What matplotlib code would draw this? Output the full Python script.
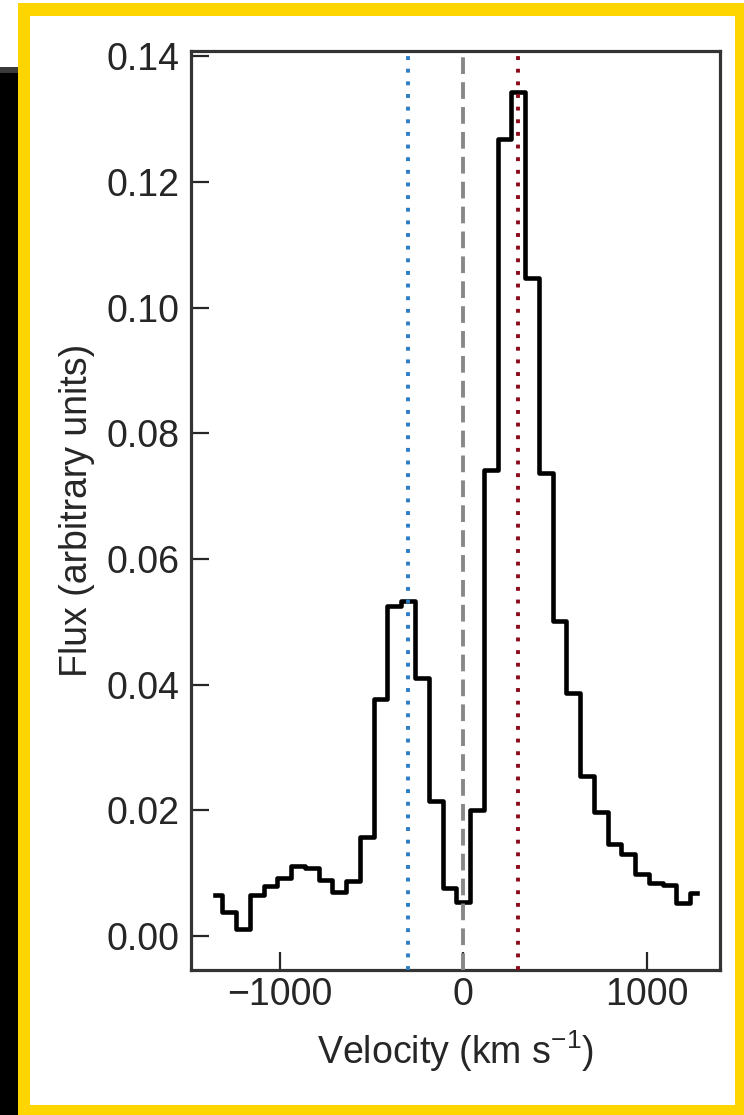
import numpy as np
import matplotlib
matplotlib.use('Agg')
import matplotlib.pyplot as plt
from matplotlib.patches import Rectangle

# binned line profile, 75 km/s bins
velocity = [-1350, -1275, -1200, -1125, -1050, -975, -900, -825, -750, -675,
            -600, -525, -450, -375, -300, -225, -150, -75, 0, 75,
            150, 225, 300, 375, 450, 525, 600, 675, 750, 825,
            900, 975, 1050, 1125, 1200, 1275]
flux = [0.0066, 0.0039, 0.0012, 0.0066, 0.0079, 0.0092, 0.0111, 0.0108, 0.0089, 0.0070,
        0.0088, 0.0157, 0.0378, 0.0525, 0.0533, 0.0410, 0.0215, 0.0077, 0.0054, 0.0200,
        0.0741, 0.1268, 0.1343, 0.1047, 0.0737, 0.0502, 0.0387, 0.0254, 0.0198, 0.0146,
        0.0130, 0.0098, 0.0084, 0.0081, 0.0053, 0.0069]

v_blue = -300
v_red = 300

W, H = 744, 1115
plt.rcParams['font.family'] = ['Liberation Sans', 'DejaVu Sans']
plt.rcParams['mathtext.fontset'] = 'custom'
plt.rcParams['mathtext.rm'] = 'Liberation Sans'
plt.rcParams['mathtext.it'] = 'Liberation Sans'
plt.rcParams['mathtext.default'] = 'regular'
txt = '#262626'

fig = plt.figure(figsize=(W / 100, H / 100), dpi=100, facecolor='white')


def box(x0, y0, x1, y1, color, z=-10):
    # rectangle given in pixels from the top-left corner
    r = Rectangle((x0 / W, 1 - y1 / H), (x1 - x0) / W, (y1 - y0) / H,
                  transform=fig.transFigure, facecolor=color, edgecolor='none', zorder=z)
    fig.add_artist(r)


# frame around the panel
box(0, 67, 18, H, '#3a3a3a')
box(0, 73, 18, H, 'black')
box(17.5, 2.7, W, H, '#ffd500')
box(30, 16, 735, 1105, 'white')

ax = fig.add_axes([190.7 / W, 1 - 970 / H, (720 - 190.7) / W, (970 - 50.7) / H])
ax.set_facecolor('white')

ax.plot(velocity, flux, drawstyle='steps-mid', color='black', lw=3.3, zorder=3)

ax.axvline(v_blue, color='#2a7cc4', lw=2.8, ls=(0, (1, 2.25)), zorder=4)
ax.axvline(0, color='#888888', lw=2.8, ls=(0, (4.3, 2.1)), zorder=4)
ax.axvline(v_red, color='#8b0a1a', lw=2.8, ls=(0, (1, 2.25)), zorder=4)

ax.set_xlim(-1485, 1400)
ax.set_ylim(-0.0054, 0.1409)
ax.set_xticks([-1000, 0, 1000])
ax.set_yticks([0.00, 0.02, 0.04, 0.06, 0.08, 0.10, 0.12, 0.14])
ax.yaxis.set_major_formatter(matplotlib.ticker.FormatStrFormatter('%.2f'))

ax.tick_params(direction='in', length=13, width=1.6, colors=txt, labelsize=27,
               top=False, right=False)
ax.tick_params(axis='y', pad=8)
ax.tick_params(axis='x', pad=5)
for s in ax.spines.values():
    s.set_linewidth(2.3)
    s.set_color('#333333')

ax.set_xlabel(r'Velocity (km s$^{-1}$)', fontsize=27, color=txt, labelpad=11)
ax.set_ylabel('Flux (arbitrary units)', fontsize=27, color=txt, labelpad=8)

fig.savefig('out.png', dpi=100, facecolor='white')
